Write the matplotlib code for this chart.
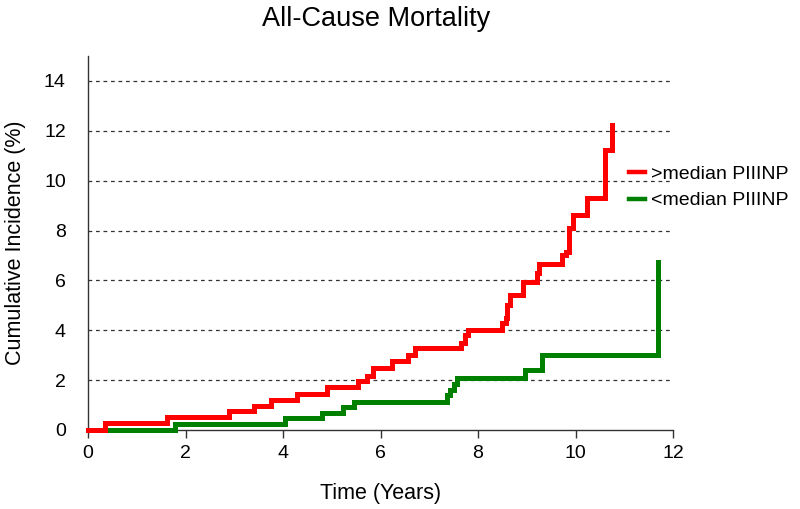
import matplotlib
matplotlib.use("Agg")
import matplotlib.pyplot as plt

plt.rcParams['font.family'] = ['Liberation Sans', 'DejaVu Sans']

# Data (step functions: event times in years, cumulative incidence in %)
high_t = [0, 0.35, 1.62, 2.9, 3.4, 3.75, 4.28, 4.9, 5.53, 5.72, 5.85, 6.23, 6.57, 6.7,
          7.66, 7.74, 7.8, 8.49, 8.57, 8.6, 8.66, 8.93, 9.22, 9.26, 9.73, 9.8, 9.87,
          9.95, 10.24, 10.6, 10.74]
high_y = [0, 0.3, 0.53, 0.75, 0.98, 1.2, 1.45, 1.72, 1.95, 2.15, 2.5, 2.75, 3.0, 3.27,
          3.5, 3.8, 4.03, 4.28, 4.5, 5.0, 5.4, 5.95, 6.3, 6.65, 7.02, 7.15, 8.09,
          8.62, 9.29, 11.23, 12.23]

low_t = [0, 1.78, 4.04, 4.81, 5.24, 5.46, 7.36, 7.42, 7.5, 7.56, 8.96, 9.31, 11.7]
low_y = [0, 0.24, 0.47, 0.7, 0.91, 1.14, 1.4, 1.6, 1.85, 2.07, 2.41, 3.01, 6.75]

labels = ['>median PIIINP', '<median PIIINP']
colors = ['#ff0000', '#008000']

xticks = [0, 2, 4, 6, 8, 10, 12]
yticks = [0, 2, 4, 6, 8, 10, 12, 14]

fig = plt.figure(figsize=(8.0, 5.09), dpi=100)
ax = fig.add_axes([88/800, 1-430/509, (673-88)/800, (430-56)/509])

lg, = ax.step(low_t, low_y, where='post', color=colors[1], lw=3.6,
              solid_joinstyle='miter', clip_on=False, zorder=3, label=labels[1])
lr, = ax.step(high_t, high_y, where='post', color=colors[0], lw=3.6,
              solid_joinstyle='miter', clip_on=False, zorder=4, label=labels[0])

ax.set_xlim(0, 12)
ax.set_ylim(0, 15)
ax.set_xticks(xticks)
ax.set_yticks(yticks)
ax.tick_params(axis='x', direction='out', length=6, width=1, colors='#333333',
               labelcolor='black', labelsize=14, pad=5)
ax.tick_params(axis='y', length=0, labelsize=14, pad=16)

for yv in yticks[1:]:
    ax.axhline(yv, color='#333333', lw=0.9, ls=(0, (3, 3)), zorder=1)

for s in ['top', 'right']:
    ax.spines[s].set_visible(False)
for s in ['left', 'bottom']:
    ax.spines[s].set_color('#333333')
    ax.spines[s].set_linewidth(1.0)
    ax.spines[s].set_zorder(2)

ax.set_xlabel('Time (Years)', fontsize=15.5, va='center')
ax.xaxis.set_label_coords((381-88)/585, (430-493)/374)
ax.set_ylabel('Cumulative Incidence (%)', fontsize=15.5, va='center')
ax.yaxis.set_label_coords((16-88)/585, 0.5)

fig.text(376/800, 1-19/509, 'All-Cause Mortality', fontsize=19.5,
         ha='center', va='center')

leg = ax.legend(handles=[lr, lg], labels=labels, loc='center left',
                bbox_to_anchor=(629/800, 1-187.5/509), bbox_transform=fig.transFigure,
                frameon=False, fontsize=14, handlelength=0.8, handletextpad=0.35,
                borderpad=0, borderaxespad=0, labelspacing=0.45)
for h in leg.legend_handles:
    h.set_linewidth(3.2)

fig.savefig('out.png', dpi=100)
